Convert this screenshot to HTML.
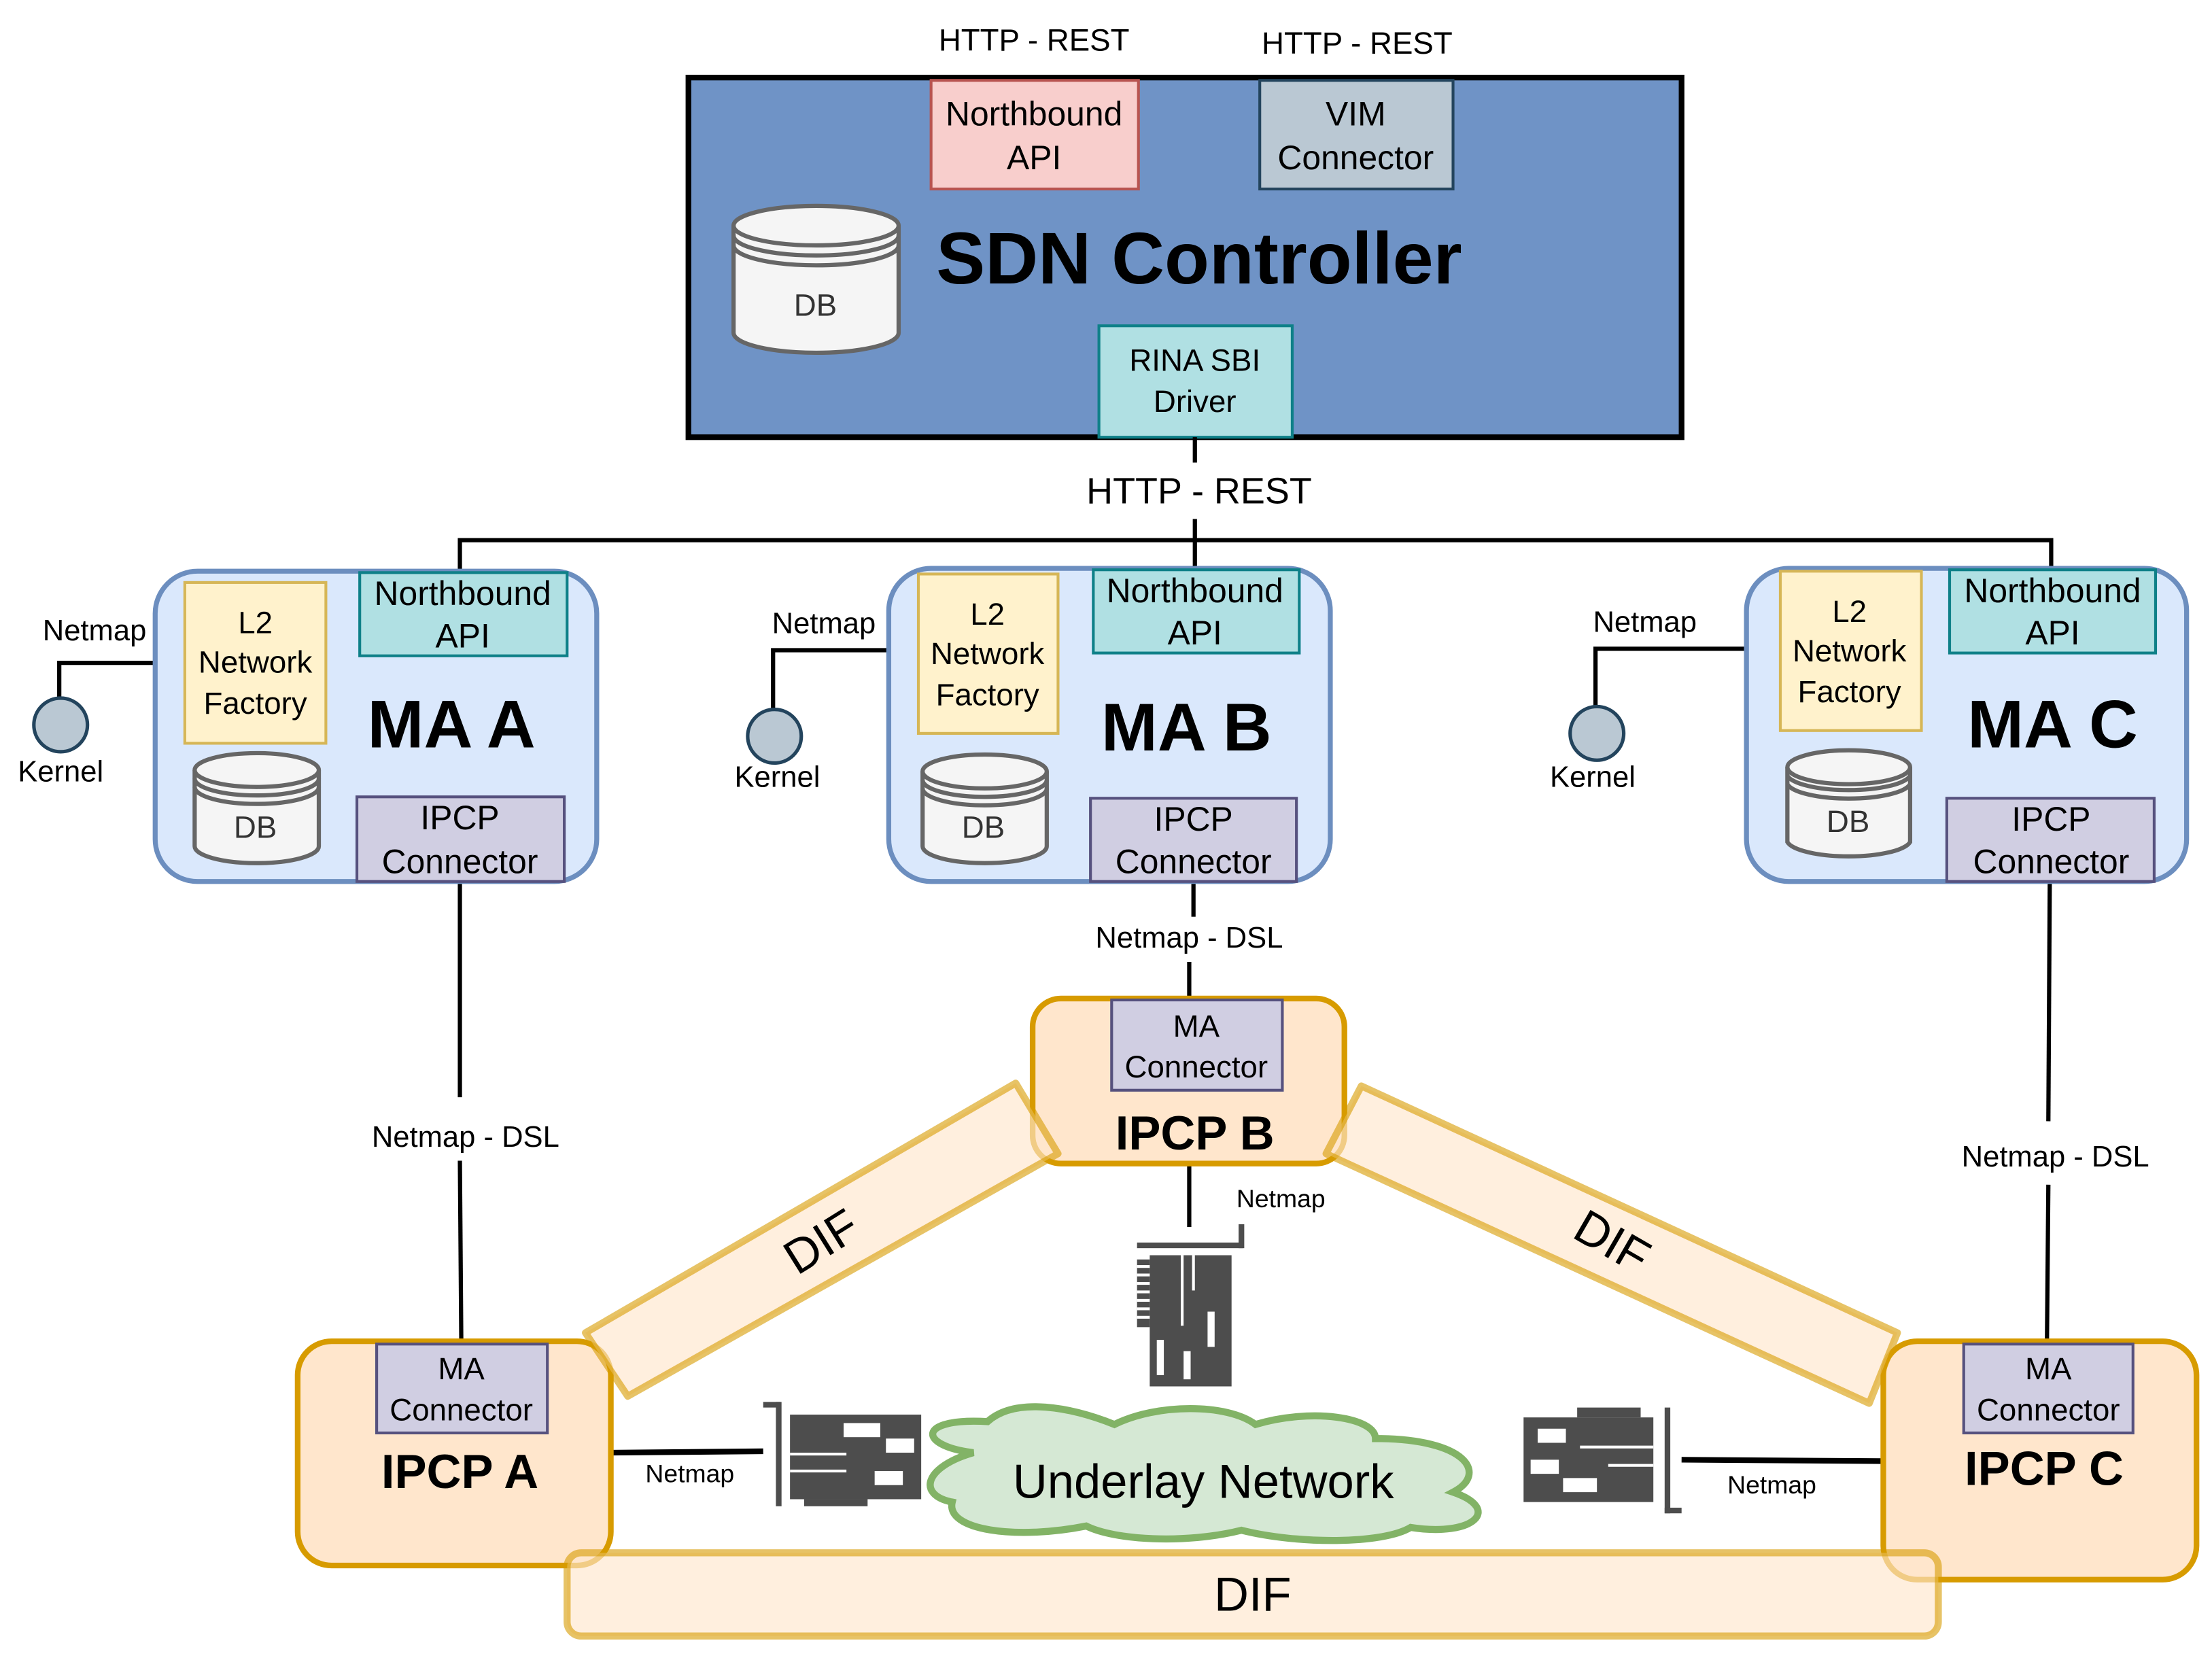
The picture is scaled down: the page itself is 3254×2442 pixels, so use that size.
<!DOCTYPE html>
<html><head><meta charset="utf-8"><style>html,body{margin:0;padding:0;background:#fff}svg{display:block}</style></head>
<body>
<svg width="3254" height="2442" viewBox="0 0 1568 1177" preserveAspectRatio="none" xmlns="http://www.w3.org/2000/svg" font-family="Liberation Sans, Arial, sans-serif">
<defs>
<g id="cyl">
</g>
</defs>
<!-- top labels -->
<text x="733" y="36" font-size="22" text-anchor="middle">HTTP - REST</text>
<text x="962" y="38" font-size="22" text-anchor="middle">HTTP - REST</text>
<!-- SDN box -->
<rect x="488" y="55" width="704" height="255" fill="#6f93c6" stroke="#000" stroke-width="4"/>
<rect x="660" y="57" width="147" height="77" fill="#f8cecc" stroke="#b85450" stroke-width="2"/>
<text x="733" y="89" font-size="24" text-anchor="middle">Northbound</text>
<text x="733" y="120" font-size="24" text-anchor="middle">API</text>
<rect x="893" y="57" width="137" height="77" fill="#bac8d3" stroke="#23445d" stroke-width="2"/>
<text x="961" y="89" font-size="24" text-anchor="middle">VIM</text>
<text x="961" y="120" font-size="24" text-anchor="middle">Connector</text>
<!-- DB -->
<path d="M520,160 L520,236 A58,14 0 0 0 637,236 L637,160" fill="#f5f5f5" stroke="#666" stroke-width="3"/>
<ellipse cx="578.5" cy="160" rx="58.5" ry="14" fill="#f5f5f5" stroke="#666" stroke-width="3"/>
<path d="M520,167 A58,14 0 0 0 637,167 M520,174 A58,14 0 0 0 637,174" fill="none" stroke="#666" stroke-width="3"/>
<text x="578" y="224" font-size="22" text-anchor="middle" fill="#333">DB</text>
<text x="850" y="201" font-size="52" font-weight="bold" text-anchor="middle">SDN Controller</text>
<rect x="779" y="231" width="137" height="79" fill="#b0e0e3" stroke="#0e8088" stroke-width="2"/>
<text x="847" y="263" font-size="22" text-anchor="middle">RINA SBI</text>
<text x="847" y="292" font-size="22" text-anchor="middle">Driver</text>
<!-- connections -->
<g stroke="#000" stroke-width="3" fill="none">
<line x1="847" y1="310" x2="847" y2="328"/>
<line x1="847" y1="368" x2="847" y2="405"/>
<polyline points="326,405 326,383 1454,383 1454,405"/>
<line x1="326" y1="625" x2="326" y2="778"/>
<line x1="326" y1="823" x2="327" y2="953"/>
<line x1="846" y1="625" x2="846" y2="650"/>
<line x1="843" y1="682" x2="843" y2="708"/>
<line x1="1453" y1="625" x2="1452" y2="795"/>
<line x1="1452" y1="840" x2="1451" y2="952"/>
<line x1="843" y1="825" x2="843" y2="870"/>
<line x1="433" y1="1030" x2="541" y2="1029" stroke-width="4"/>
<line x1="1192" y1="1035" x2="1335" y2="1036" stroke-width="4"/>
<polyline points="131,470 42,470 42,496"/>
<polyline points="651,461 548,461 548,504"/>
<polyline points="1262,460 1131,460 1131,502"/>
</g>
<text x="850" y="357" font-size="26" text-anchor="middle">HTTP - REST</text>
<text x="330" y="813" font-size="21" text-anchor="middle">Netmap - DSL</text>
<text x="843" y="672" font-size="21" text-anchor="middle">Netmap - DSL</text>
<text x="1457" y="827" font-size="21" text-anchor="middle">Netmap - DSL</text>
<!-- kernels -->
<g fill="#bac8d3" stroke="#23445d" stroke-width="2.5">
<circle cx="43" cy="514" r="19"/><circle cx="549" cy="522" r="19"/><circle cx="1132" cy="520" r="19"/>
</g>
<g font-size="21" text-anchor="middle">
<text x="67" y="454">Netmap</text><text x="43" y="554">Kernel</text>
<text x="584" y="449">Netmap</text><text x="551" y="558">Kernel</text>
<text x="1166" y="448">Netmap</text><text x="1129" y="558">Kernel</text>
</g>
<!-- MA boxes -->
<g id="maA">
<rect x="110" y="405" width="313" height="220" rx="30" fill="#dae8fc" stroke="#6c8ebf" stroke-width="3.5"/>
<rect x="131" y="413" width="100" height="114" fill="#fff2cc" stroke="#d6b656" stroke-width="2"/>
<text x="181" y="449" font-size="22" text-anchor="middle">L2</text>
<text x="181" y="477" font-size="22" text-anchor="middle">Network</text>
<text x="181" y="506" font-size="22" text-anchor="middle">Factory</text>
<rect x="255" y="406" width="147" height="59" fill="#b0e0e3" stroke="#0e8088" stroke-width="2"/>
<text x="328" y="429" font-size="24" text-anchor="middle">Northbound</text>
<text x="328" y="459" font-size="24" text-anchor="middle">API</text>
<text x="320" y="530" font-size="48" font-weight="bold" text-anchor="middle">MA A</text>
<path d="M138,546 L138,600 A44,12 0 0 0 226,600 L226,546" fill="#f5f5f5" stroke="#666" stroke-width="3"/>
<ellipse cx="182" cy="546" rx="44" ry="12" fill="#f5f5f5" stroke="#666" stroke-width="3"/>
<path d="M138,552 A44,12 0 0 0 226,552 M138,558 A44,12 0 0 0 226,558" fill="none" stroke="#666" stroke-width="3"/>
<text x="181" y="594" font-size="22" text-anchor="middle" fill="#333">DB</text>
<rect x="253" y="565" width="147" height="60" fill="#d0cee2" stroke="#56517e" stroke-width="2"/>
<text x="326" y="588" font-size="24" text-anchor="middle">IPCP</text>
<text x="326" y="619" font-size="24" text-anchor="middle">Connector</text>
</g>
<g>
<rect x="630" y="403" width="313" height="222" rx="30" fill="#dae8fc" stroke="#6c8ebf" stroke-width="3.5"/>
<rect x="651" y="407" width="99" height="113" fill="#fff2cc" stroke="#d6b656" stroke-width="2"/>
<text x="700" y="443" font-size="22" text-anchor="middle">L2</text>
<text x="700" y="471" font-size="22" text-anchor="middle">Network</text>
<text x="700" y="500" font-size="22" text-anchor="middle">Factory</text>
<rect x="775" y="404" width="146" height="59" fill="#b0e0e3" stroke="#0e8088" stroke-width="2"/>
<text x="847" y="427" font-size="24" text-anchor="middle">Northbound</text>
<text x="847" y="457" font-size="24" text-anchor="middle">API</text>
<text x="841" y="532" font-size="48" font-weight="bold" text-anchor="middle">MA B</text>
<path d="M654,547 L654,600 A44,12 0 0 0 742,600 L742,547" fill="#f5f5f5" stroke="#666" stroke-width="3"/>
<ellipse cx="698" cy="547" rx="44" ry="12" fill="#f5f5f5" stroke="#666" stroke-width="3"/>
<path d="M654,553 A44,12 0 0 0 742,553 M654,559 A44,12 0 0 0 742,559" fill="none" stroke="#666" stroke-width="3"/>
<text x="697" y="594" font-size="22" text-anchor="middle" fill="#333">DB</text>
<rect x="773" y="566" width="146" height="59" fill="#d0cee2" stroke="#56517e" stroke-width="2"/>
<text x="846" y="589" font-size="24" text-anchor="middle">IPCP</text>
<text x="846" y="619" font-size="24" text-anchor="middle">Connector</text>
</g>
<g>
<rect x="1238" y="403" width="312" height="222" rx="30" fill="#dae8fc" stroke="#6c8ebf" stroke-width="3.5"/>
<rect x="1262" y="405" width="100" height="113" fill="#fff2cc" stroke="#d6b656" stroke-width="2"/>
<text x="1311" y="441" font-size="22" text-anchor="middle">L2</text>
<text x="1311" y="469" font-size="22" text-anchor="middle">Network</text>
<text x="1311" y="498" font-size="22" text-anchor="middle">Factory</text>
<rect x="1382" y="404" width="146" height="59" fill="#b0e0e3" stroke="#0e8088" stroke-width="2"/>
<text x="1455" y="427" font-size="24" text-anchor="middle">Northbound</text>
<text x="1455" y="457" font-size="24" text-anchor="middle">API</text>
<text x="1455" y="530" font-size="48" font-weight="bold" text-anchor="middle">MA C</text>
<path d="M1267,544 L1267,597 A44,12 0 0 0 1354,597 L1354,544" fill="#f5f5f5" stroke="#666" stroke-width="3"/>
<ellipse cx="1310.5" cy="544" rx="43.5" ry="12" fill="#f5f5f5" stroke="#666" stroke-width="3"/>
<path d="M1267,550 A44,12 0 0 0 1354,550 M1267,556 A44,12 0 0 0 1354,556" fill="none" stroke="#666" stroke-width="3"/>
<text x="1310" y="590" font-size="22" text-anchor="middle" fill="#333">DB</text>
<rect x="1380" y="566" width="147" height="59" fill="#d0cee2" stroke="#56517e" stroke-width="2"/>
<text x="1454" y="589" font-size="24" text-anchor="middle">IPCP</text>
<text x="1454" y="619" font-size="24" text-anchor="middle">Connector</text>
</g>
<!-- IPCP boxes -->
<g stroke="#d79b00" stroke-width="4" fill="#ffe6cc">
<rect x="732" y="708" width="221" height="117" rx="20"/>
<rect x="211" y="951" width="222" height="159" rx="24"/>
<rect x="1335" y="951" width="222" height="169" rx="24"/>
</g>
<g fill="#d0cee2" stroke="#56517e" stroke-width="2">
<rect x="788" y="709" width="121" height="64"/>
<rect x="267" y="953" width="121" height="63"/>
<rect x="1392" y="953" width="120" height="63"/>
</g>
<g font-size="22" text-anchor="middle">
<text x="848" y="735">MA</text><text x="848" y="764">Connector</text>
<text x="327" y="978">MA</text><text x="327" y="1007">Connector</text>
<text x="1452" y="978">MA</text><text x="1452" y="1007">Connector</text>
</g>
<g font-size="34" font-weight="bold" text-anchor="middle">
<text x="847" y="815">IPCP B</text>
<text x="326" y="1055">IPCP A</text>
<text x="1449" y="1053">IPCP C</text>
</g>
<!-- DIF bands -->
<g fill="#ffe6cc" fill-opacity="0.65" stroke="#d79b00" stroke-opacity="0.6" stroke-width="5" stroke-linejoin="round">
<polygon points="415,945 720,768 750,818 445,990"/>
<polygon points="965,770 1345,945 1325,995 940,818"/>
<rect x="402" y="1101" width="972" height="59" rx="10"/>
</g>
<text x="582" y="892" font-size="34" text-anchor="middle" transform="rotate(-32 582 880)">DIF</text>
<text x="1143" y="892" font-size="34" text-anchor="middle" transform="rotate(30 1143 880)">DIF</text>
<text x="888" y="1142" font-size="34" text-anchor="middle">DIF</text>
<!-- cloud -->
<path d="M690,1030 C650,1025 650,1005 700,1008 C720,990 760,998 790,1010 C820,995 870,995 890,1010 C930,998 975,1005 975,1020 C1040,1020 1055,1045 1030,1058 C1065,1070 1045,1090 1000,1083 C980,1095 920,1095 880,1085 C840,1095 790,1092 770,1082 C720,1092 670,1085 675,1065 C650,1060 655,1040 690,1030 Z" fill="#d5e8d4" stroke="#82b366" stroke-width="5"/>
<text x="853" y="1062" font-size="34" text-anchor="middle">Underlay Network</text>
<!-- NIC B (vertical) -->
<g fill="#4d4d4d">
<rect x="806" y="881" width="75" height="4"/><rect x="878" y="868" width="4" height="17"/>
<rect x="815" y="890" width="58" height="93"/>
<rect x="806" y="893" width="9" height="48" />
</g>
<g fill="#fff">
<rect x="806" y="897" width="9" height="2"/><rect x="806" y="903" width="9" height="2"/><rect x="806" y="909" width="9" height="2"/><rect x="806" y="915" width="9" height="2"/><rect x="806" y="921" width="9" height="2"/><rect x="806" y="927" width="9" height="2"/><rect x="806" y="933" width="9" height="2"/>
<rect x="820" y="950" width="5" height="25"/><rect x="839" y="958" width="5" height="20"/><rect x="856" y="930" width="5" height="25"/>
<rect x="837" y="890" width="2" height="50"/><rect x="845" y="890" width="2" height="25"/>
</g>
<!-- NIC A -->
<g fill="#4d4d4d">
<rect x="541" y="994" width="12" height="4"/><rect x="550" y="994" width="4" height="74"/>
<rect x="560" y="1003" width="93" height="60"/>
<rect x="570" y="1063" width="45" height="5"/>
</g>
<g fill="#fff">
<rect x="598" y="1009" width="26" height="10"/><rect x="628" y="1020" width="20" height="10"/><rect x="620" y="1043" width="20" height="10"/>
<rect x="560" y="1030" width="40" height="2"/><rect x="560" y="1042" width="40" height="2"/>
</g>
<!-- NIC C -->
<g fill="#4d4d4d">
<rect x="1080" y="1005" width="92" height="60"/>
<rect x="1118" y="998" width="45" height="7"/>
<rect x="1180" y="998" width="4" height="75"/><rect x="1180" y="1069" width="12" height="4"/>
</g>
<g fill="#fff">
<rect x="1090" y="1013" width="20" height="10"/><rect x="1085" y="1035" width="20" height="10"/><rect x="1108" y="1048" width="24" height="10"/>
<rect x="1120" y="1025" width="52" height="2"/><rect x="1140" y="1038" width="32" height="2"/>
</g>
<g font-size="18" text-anchor="middle">
<text x="908" y="856">Netmap</text>
<text x="489" y="1051">Netmap</text>
<text x="1256" y="1059">Netmap</text>
</g>
</svg>
</body></html>
